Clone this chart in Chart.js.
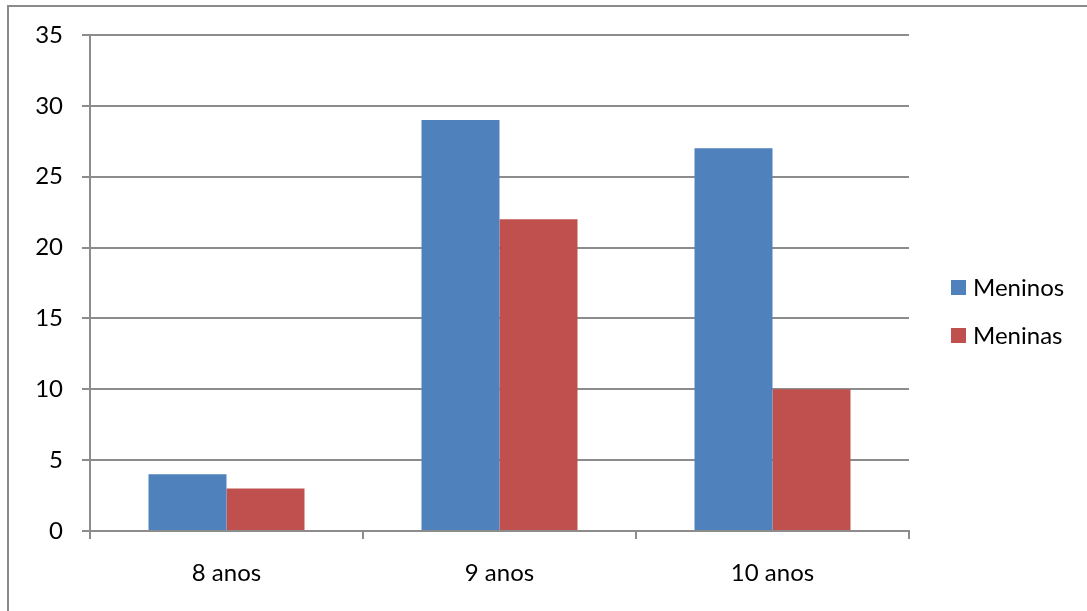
<!DOCTYPE html>
<html>
<head>
<meta charset="utf-8">
<script src="https://cdn.jsdelivr.net/npm/chart.js@4/dist/chart.umd.min.js"></script>
<style>
  html, body { margin: 0; padding: 0; background: #ffffff; }
  #wrap { width: 1087px; height: 611px; }
</style>
</head>
<body>
<div id="wrap"><canvas id="c" width="1087" height="611"></canvas></div>
<script>
// Age groups and counts per group
const categories = ['8 anos', '9 anos', '10 anos'];
const seriesNames = ['Meninos', 'Meninas'];
const meninos = [4, 29, 27];
const meninas = [3, 22, 10];
const yTicks = [0, 5, 10, 15, 20, 25, 30, 35];

const FONT = 'Lato, "Open Sans", sans-serif';
const FONT_SIZE = 24;
const GRID = '#8c8c8c';

// Frame lines along the top and left of the figure, plus a side legend
const framePlugin = {
  id: 'frameAndLegend',
  beforeDraw(chart) {
    const ctx = chart.ctx;
    ctx.save();
    ctx.fillStyle = '#8a8a8a';
    ctx.fillRect(7, 5, chart.width - 7, 2);
    ctx.fillRect(7, 5, 2, chart.height - 5);
    ctx.restore();
  },
  afterDraw(chart) {
    const ctx = chart.ctx;
    const area = chart.chartArea;
    const x = area.right + 42;
    let y = area.top + 252.5;
    ctx.save();
    ctx.font = FONT_SIZE + 'px ' + FONT;
    ctx.textBaseline = 'middle';
    ctx.textAlign = 'left';
    chart.data.datasets.forEach(ds => {
      ctx.fillStyle = ds.backgroundColor;
      ctx.fillRect(x, y - 7.5, 15, 15);
      ctx.fillStyle = '#000000';
      ctx.fillText(ds.label, x + 22, y + 1);
      y += 48;
    });
    ctx.restore();
  }
};

new Chart(document.getElementById('c'), {
  type: 'bar',
  data: {
    labels: categories,
    datasets: [
      { label: seriesNames[0], data: meninos, backgroundColor: '#4F81BD', borderWidth: 0 },
      { label: seriesNames[1], data: meninas, backgroundColor: '#C0504D', borderWidth: 0 }
    ]
  },
  options: {
    responsive: false,
    animation: false,
    devicePixelRatio: 1,
    layout: { padding: { left: 10, right: 178, top: 35, bottom: 0 } },
    datasets: {
      bar: { categoryPercentage: 1 / 1.75, barPercentage: 1 }
    },
    plugins: {
      legend: { display: false },
      tooltip: { enabled: false }
    },
    scales: {
      x: {
        grid: {
          offset: true,
          drawOnChartArea: false,
          drawTicks: true,
          tickLength: 8,
          color: GRID,
          lineWidth: 2
        },
        border: { display: true, color: GRID, width: 2 },
        ticks: {
          color: '#000000',
          font: { family: FONT, size: FONT_SIZE },
          padding: 20
        },
        afterFit(s) { s.height = 80; }
      },
      y: {
        min: 0,
        max: 35,
        afterBuildTicks(s) { s.ticks = yTicks.map(v => ({ value: v })); },
        grid: {
          drawTicks: true,
          tickLength: 8,
          color: GRID,
          lineWidth: 2
        },
        border: { display: true, color: GRID, width: 2 },
        ticks: {
          color: '#000000',
          font: { family: FONT, size: FONT_SIZE },
          padding: 19
        },
        afterFit(s) { s.width = 80; }
      }
    }
  },
  plugins: [framePlugin]
});
</script>
</body>
</html>
